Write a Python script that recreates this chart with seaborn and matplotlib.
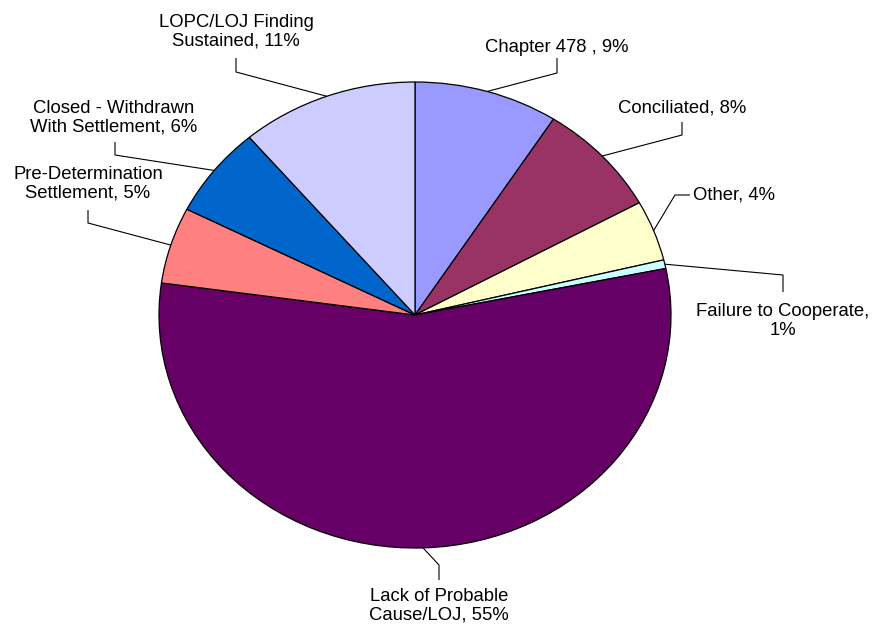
import matplotlib
matplotlib.use("Agg")
import matplotlib.pyplot as plt
import seaborn as sns
import numpy as np

categories = [
    "Chapter 478 ",
    "Conciliated",
    "Other",
    "Failure to Cooperate",
    "Lack of Probable Cause/LOJ",
    "Pre-Determination Settlement",
    "Closed - Withdrawn With Settlement",
    "LOPC/LOJ Finding Sustained",
]
values = [9.1, 7.9, 4.2, 0.6, 55.4, 5.3, 6.3, 11.2]
label_texts = [
    "Chapter 478 , {p}%",
    "Conciliated, {p}%",
    "Other, {p}%",
    "Failure to Cooperate,\n{p}%",
    "Lack of Probable\nCause/LOJ, {p}%",
    "Pre-Determination\nSettlement, {p}%",
    "Closed - Withdrawn\nWith Settlement, {p}%",
    "LOPC/LOJ Finding\nSustained, {p}%",
]
colors = ["#9999FF", "#993366", "#FFFFCC", "#CCFFFF",
          "#660066", "#FF8080", "#0066CC", "#CCCCFF"]

sns.set_style("white")
plt.rcParams["font.family"] = ["Liberation Sans", "DejaVu Sans"]

W, H = 876, 627
CX, CY, RX, RY = 415, 315, 256, 233

fig = plt.figure(figsize=(W / 100, H / 100), dpi=100)
ax = fig.add_axes([0, 0, 1, 1])

wedges, _ = ax.pie(values, colors=colors, startangle=90, counterclock=False,
                   wedgeprops=dict(edgecolor="black", linewidth=0.9))
ax.set_aspect("auto")
ax.set_xlim(-CX / RX, (W - CX) / RX)
ax.set_ylim((CY - H) / RY, CY / RY)
ax.axis("off")


def px(x, y):
    return (x - CX) / RX, (CY - y) / RY


# label layout (pixel positions): text anchor, elbow path start, alignment
layout = [
    dict(text=(557, 47), path=[(557, 58), (557, 73)], ha="center"),
    dict(text=(682, 108), path=[(682, 122), (682, 135)], ha="center"),
    dict(text=(693, 195), path=[(690, 195), (675, 195)], ha="left"),
    dict(text=(783, 321), path=[(783, 292), (783, 275)], ha="center"),
    dict(text=(439, 606), path=[(439, 580), (439, 565)], ha="center"),
    dict(text=(88, 184), path=[(88, 210), (88, 223)], ha="center"),
    dict(text=(114, 118), path=[(115, 142), (115, 155)], ha="center"),
    dict(text=(236, 32), path=[(236, 58), (236, 72)], ha="center"),
]

for w, v, lt, lay in zip(wedges, values, label_texts, layout):
    mid = np.deg2rad((w.theta1 + w.theta2) / 2)
    ex, ey = np.cos(mid), np.sin(mid)
    pts = [px(*p) for p in lay["path"]] + [(ex, ey)]
    xs, ys = zip(*pts)
    ax.plot(xs, ys, color="black", linewidth=0.8, solid_capstyle="butt")
    tx, ty = px(*lay["text"])
    ax.text(tx, ty, lt.format(p=int(round(v))), ha=lay["ha"], va="center",
            multialignment="center", fontsize=13.3, color="black",
            linespacing=1.1)

fig.savefig("out.png", dpi=100)
